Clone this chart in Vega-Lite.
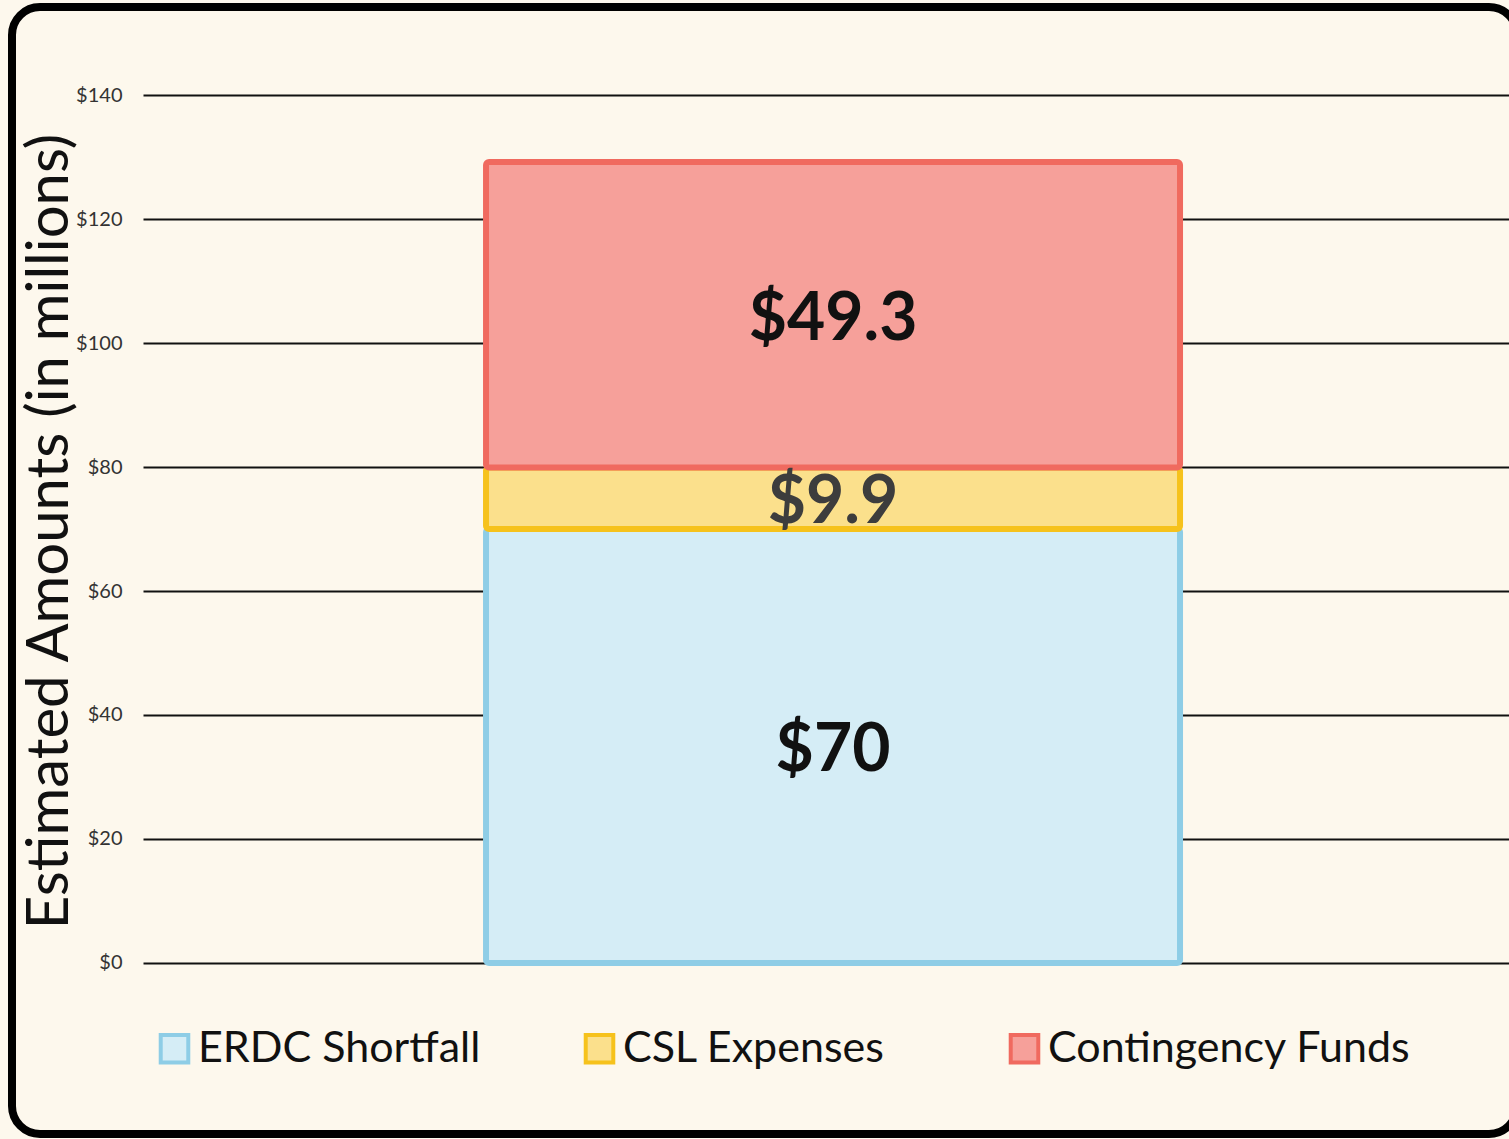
{
  "$schema": "https://vega.github.io/schema/vega-lite/v6.json",
  "width": 1505,
  "height": 1127,
  "autosize": {"type": "none"},
  "padding": {"left": 12, "top": 7, "right": -8, "bottom": 5},
  "background": "#fdf8ed",
  "config": {
    "view": {"stroke": "#000000", "strokeWidth": 8, "cornerRadius": 28, "fill": "#fdf8ed"},
    "font": "Lato"
  },
  "data": {
    "values": [
      {"group": "Total", "category": "ERDC Shortfall", "value": 70, "label": "$70", "order": 1},
      {"group": "Total", "category": "CSL Expenses", "value": 9.9, "label": "$9.9", "order": 2},
      {"group": "Total", "category": "Contingency Funds", "value": 49.3, "label": "$49.3", "order": 3}
    ]
  },
  "transform": [
    {"stack": "value", "groupby": ["group"], "sort": [{"field": "order", "order": "ascending"}], "as": ["v0", "v1"]},
    {"calculate": "(datum.v0 + datum.v1) / 2", "as": "mid"}
  ],
  "encoding": {
    "x": {
      "field": "group", "type": "nominal", "axis": null,
      "scale": {"paddingInner": 0, "paddingOuter": 0.5843, "align": 0.5845}
    }
  },
  "layer": [
    {
      "mark": {"type": "bar", "strokeWidth": 6, "cornerRadius": 3},
      "encoding": {
        "y": {
          "field": "v0", "type": "quantitative",
          "scale": {"domain": [-27.581, 154.194], "nice": false, "zero": false},
          "axis": {
            "orient": "left", "offset": -131, "values": [0, 20, 40, 60, 80, 100, 120, 140],
            "grid": false, "domain": false, "ticks": true, "tickSize": -1374, "tickColor": "#111111", "tickWidth": 2,
            "labelExpr": "'$' + datum.value", "labelFontSize": 20, "labelColor": "#333333", "labelPadding": 1395, "labelFont": "Lato",
            "title": "Estimated Amounts (in millions)", "titleFontSize": 58, "titleFontWeight": "normal", "titleColor": "#111111",
            "titleFont": "Lato", "titleX": -93, "titleY": 524, "titleAngle": 270, "titleBaseline": "middle", "titleAlign": "center"
          }
        },
        "y2": {"field": "v1"},
        "fill": {
          "field": "category", "type": "nominal",
          "scale": {"domain": ["ERDC Shortfall", "CSL Expenses", "Contingency Funds"], "range": ["#d5edf6", "#fbe08c", "#f6a09a"]},
          "legend": {
            "orient": "none", "legendX": 141, "legendY": 1020, "direction": "horizontal", "title": null,
            "symbolType": "square", "symbolSize": 760, "symbolStrokeWidth": 4, "labelFontSize": 43, "labelFont": "Lato",
            "labelColor": "#111111", "labelOffset": 2, "columnPadding": 16, "gridAlign": "all", "padding": 0, "labelLimit": 600
          }
        },
        "stroke": {
          "field": "category", "type": "nominal",
          "scale": {"domain": ["ERDC Shortfall", "CSL Expenses", "Contingency Funds"], "range": ["#8ecde6", "#f6c21c", "#f06a5f"]}
        }
      }
    },
    {
      "mark": {"type": "text", "fontSize": 66, "fontWeight": "bold", "font": "Lato", "baseline": "middle", "align": "center", "dy": 5},
      "encoding": {
        "y": {"field": "mid", "type": "quantitative"},
        "text": {"field": "label"},
        "color": {"condition": {"test": "datum.category === 'CSL Expenses'", "value": "#3d3d3d"}, "value": "#111111"}
      }
    }
  ]
}
